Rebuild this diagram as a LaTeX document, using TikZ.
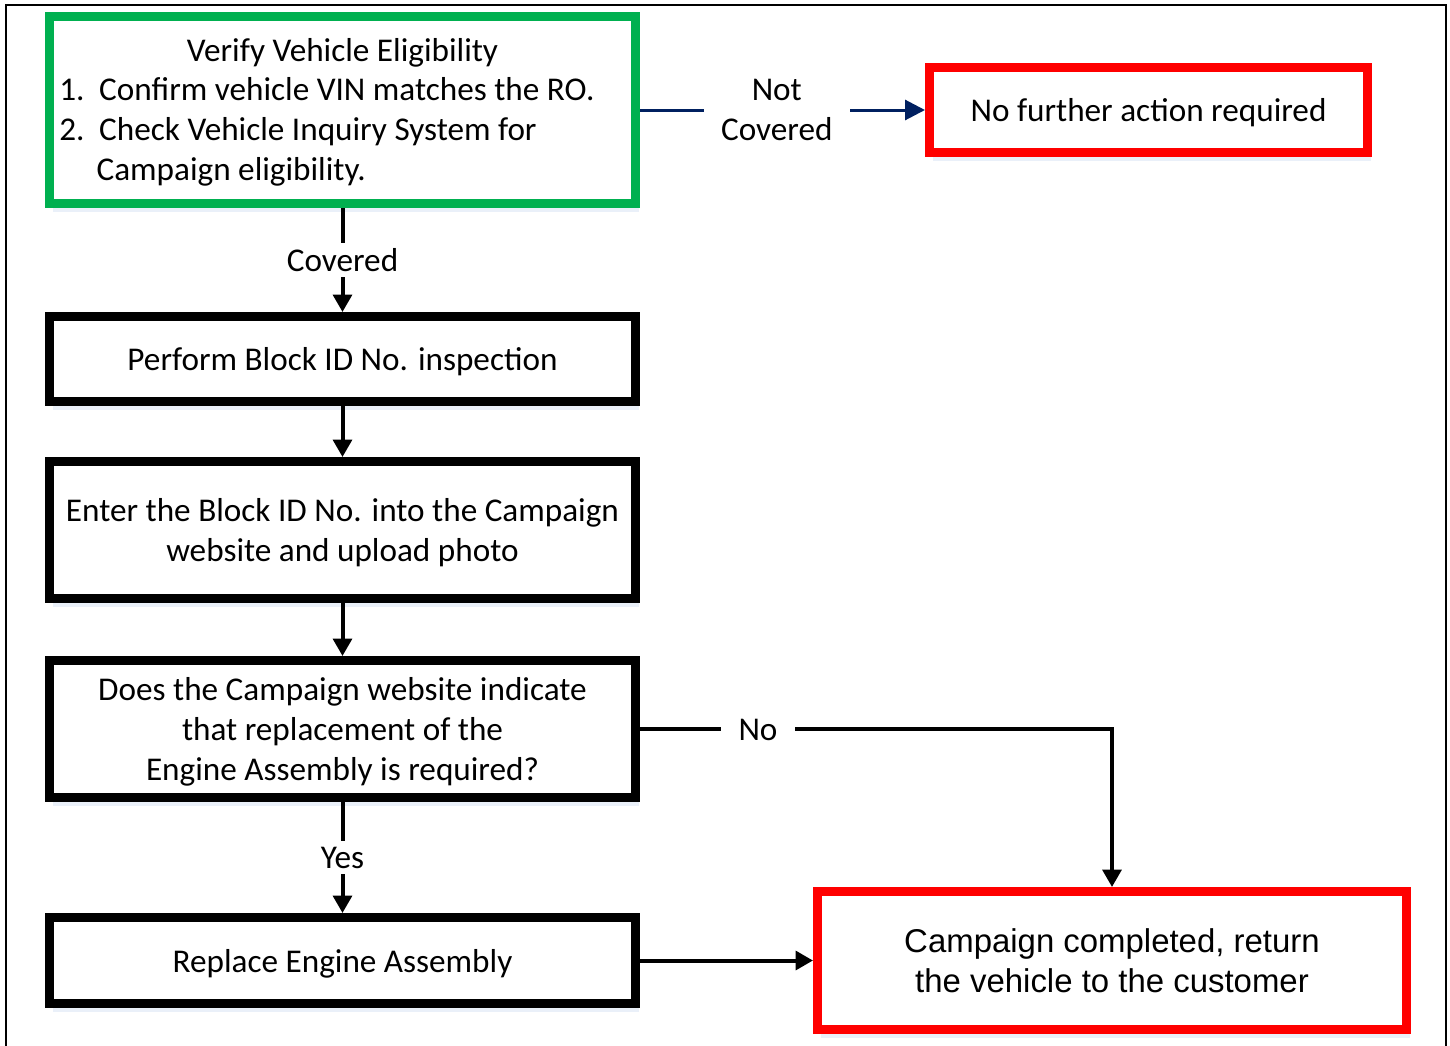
\documentclass[tikz,border=0pt]{standalone}
\usepackage{fontspec}
\setmainfont{Carlito}
\newfontfamily\arialfam{Liberation Sans}
\usetikzlibrary{arrows.meta,shadows}
\definecolor{grn}{RGB}{0,176,80}
\definecolor{rd}{RGB}{255,0,0}
\definecolor{navy}{RGB}{0,32,96}
\definecolor{shd}{RGB}{170,195,230}
\newcommand\fsz{\fontsize{24.9}{30}\selectfont}
\newcommand\st{\rule[-6pt]{0pt}{29.5pt}}
\begin{document}
\begin{tikzpicture}[x=0.75pt,y=-0.75pt,
  bbox/.style={draw=black, line width=6.75pt, fill=white, inner sep=0pt,
    minimum width=439.5pt, align=center, font=\fsz,
    drop shadow={shadow xshift=2.5pt, shadow yshift=-6pt, fill=shd, opacity=0.25}},
  gbox/.style={bbox, draw=grn},
  rbox/.style={bbox, draw=rd},
  txt/.style={inner sep=0pt, font=\fsz},
  lbl/.style={fill=white, inner xsep=13pt, inner ysep=4pt, font=\fsz, align=center},
  conn/.style={line width=3pt, -{Triangle[length=13pt,width=14pt]}},
  nconn/.style={draw=navy, line width=2.25pt, -{Triangle[length=15pt,width=15pt]}}]
\useasboundingbox (0,0) rectangle (1450,1046);
\draw[line width=1.5pt] (6,1046) -- (6,5) -- (1446,5) -- (1446,1046);

\node[gbox, minimum height=140.25pt] (verify) at (342.5,110) {};
\node[txt] (vtitle) at (342.5,50) {\st Verify Vehicle Eligibility};
\node[txt, anchor=west, align=left] (vlist) at (59,129)
  {\st\makebox[30pt][l]{1.}Confirm vehicle VIN matches the RO.\\
   \st\makebox[30pt][l]{2.}Check Vehicle Inquiry System for\\
   \st\hspace*{28pt}Campaign eligibility.};

\node[rbox, minimum width=328.5pt, minimum height=63.75pt] (nofurther) at (1148.5,110)
  {\st No further action required};
\node[bbox, minimum height=63.75pt] (perform) at (342.5,359)
  {\st Perform Block ID No. inspection};
\node[bbox, minimum height=102.75pt] (enter) at (342.5,530)
  {\st Enter the Block ID No. into the Campaign\\\st website and upload photo};
\node[bbox, minimum height=102.75pt] (does) at (342.5,729)
  {\st Does the Campaign website indicate\\\st that replacement of the\\\st Engine Assembly is required?};
\node[bbox, minimum height=64.5pt] (replace) at (342.5,960.5)
  {\st Replace Engine Assembly};
\node[rbox, minimum width=441.75pt, minimum height=103.5pt,
  font=\arialfam\fontsize{24.7}{30}\selectfont] (done) at (1112,960.5)
  {Campaign completed, return\\the vehicle to the customer};

\draw[nconn] (verify.east) -- node[lbl, pos=0.48]{Not\\Covered} (nofurther.west);
\draw[conn] (verify.south) -- node[lbl]{Covered} (perform.north);
\draw[conn] (perform.south) -- (enter.north);
\draw[conn] (enter.south) -- (does.north);
\draw[conn] (does.south) -- node[lbl]{Yes} (replace.north);
\draw[conn] (replace.east) -- (done.west);
\draw[conn] (does.east) -| node[lbl, pos=0.125]{\st No} (done.north);
\end{tikzpicture}
\end{document}
